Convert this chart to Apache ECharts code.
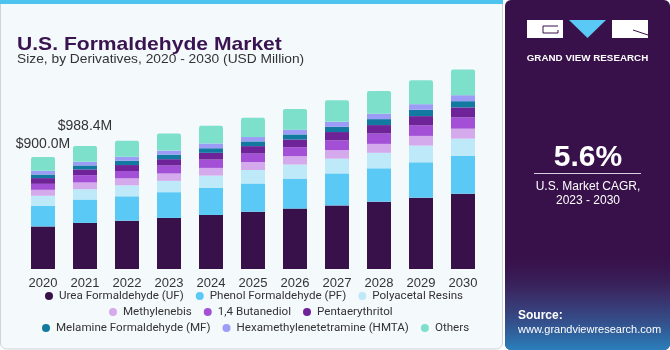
<!DOCTYPE html>
<html>
<head>
<meta charset="utf-8">
<script src="https://cdn.jsdelivr.net/npm/echarts@6/dist/echarts.min.js"></script>
<style>
  html, body { margin: 0; padding: 0; background: #fff; }
  #chart { width: 670px; height: 350px; }
</style>
</head>
<body>
<div id="chart"></div>
<script>
// years on the x axis
const years = ['2020', '2021', '2022', '2023', '2024', '2025', '2026', '2027', '2028', '2029', '2030'];

// USD million (bottom to top)
const ureaFormaldehyde = [342, 370, 388, 410, 434, 460, 485, 511, 541, 573, 605];
const phenolFormaldehyde = [166, 188, 196, 207, 217, 227, 241, 257, 268, 284, 303];
const polyacetalResins = [80, 83, 88, 91, 99, 108, 113, 118, 124, 134, 139];
const methylenebis = [48, 54, 56, 59, 62, 64, 67, 69, 72, 78, 80];
const butanediol = [48, 59, 59, 64, 67, 68, 72, 78, 83, 84, 91];
const pentaerythritol = [46, 46, 48, 51, 54, 60, 62, 67, 68, 75, 80];
const melamineFormaldehyde = [29, 32, 35, 37, 37, 38, 41, 42, 48, 51, 50];
const hmta = [30, 29, 32, 32, 38, 35, 38, 40, 43, 45, 48];
const others = [111, 127.4, 129, 137, 142, 155, 166, 174, 182, 193, 207];

// totals printed above the first two bars
const labelTotals = [900.0, 988.4];

const legendRows = [
  ['Urea Formaldehyde (UF)', 'Phenol Formaldehyde (PF)', 'Polyacetal Resins'],
  ['Methylenebis', '1,4 Butanediol', 'Pentaerythritol'],
  ['Melamine Formaldehyde (MF)', 'Hexamethylenetetramine (HMTA)', 'Others']
];

const seriesDefs = [
  { name: 'Urea Formaldehyde (UF)', data: ureaFormaldehyde, color: '#38104a' },
  { name: 'Phenol Formaldehyde (PF)', data: phenolFormaldehyde, color: '#5bc9f6' },
  { name: 'Polyacetal Resins', data: polyacetalResins, color: '#bde9f9' },
  { name: 'Methylenebis', data: methylenebis, color: '#d5aaec' },
  { name: '1,4 Butanediol', data: butanediol, color: '#a350d7' },
  { name: 'Pentaerythritol', data: pentaerythritol, color: '#6f2398' },
  { name: 'Melamine Formaldehyde (MF)', data: melamineFormaldehyde, color: '#127aa0' },
  { name: 'Hexamethylenetetramine (HMTA)', data: hmta, color: '#9c9cf6' },
  { name: 'Others', data: others, color: '#7ce0cb' }
];

const FONT = '"Liberation Sans", Arial, sans-serif';
const LEGEND_FONT = 'Roboto, "Liberation Sans", sans-serif';
const labelDistances = [6, 13];

const chart = echarts.init(document.getElementById('chart'));

const series = seriesDefs.map((s, idx) => {
  const isTop = idx === seriesDefs.length - 1;
  return {
    name: s.name,
    type: 'bar',
    stack: 'total',
    barWidth: 24,
    itemStyle: { color: s.color, borderRadius: isTop ? [2, 2, 0, 0] : 0 },
    emphasis: { disabled: true },
    data: isTop
      ? s.data.map((v, i) => i < labelTotals.length
        ? {
            value: v,
            label: {
              show: true,
              position: 'top',
              distance: labelDistances[i],
              formatter: '$' + labelTotals[i].toFixed(1) + 'M',
              fontFamily: FONT,
              fontSize: 14,
              color: '#333'
            }
          }
        : v)
      : s.data
  };
});

const legendLefts = [45, 109, 42];
const legendTops = [290, 306, 322];

// helper for text that is stretched sideways to match the original face
function stretchedText(x, y, text, font, fill, sx, align) {
  return {
    type: 'text', z: 10,
    x: x, y: y, scaleX: sx,
    style: { x: 0, y: 0, text: text, font: font, fill: fill, textAlign: align || 'left', textVerticalAlign: 'alphabetic' }
  };
}

const option = {
  animation: false,
  textStyle: { fontFamily: FONT },
  color: seriesDefs.map(s => s.color),
  grid: { left: 22, right: 186, top: 20, bottom: 81 },
  legend: legendRows.map((row, i) => ({
    data: row,
    left: legendLefts[i],
    top: legendTops[i],
    padding: 0,
    icon: 'circle',
    itemWidth: 8,
    itemHeight: 8,
    itemGap: 12,
    selectedMode: false,
    textStyle: { fontFamily: LEGEND_FONT, fontSize: 11.6, color: '#333', padding: [0, 0, 0, 1] }
  })),
  xAxis: {
    type: 'category',
    data: years,
    axisLine: { show: false },
    axisTick: { show: false },
    axisLabel: { margin: 8, fontSize: 13, color: '#333', fontFamily: FONT }
  },
  yAxis: {
    type: 'value',
    min: 0,
    max: 2000,
    show: false,
    splitLine: { show: false }
  },
  graphic: [
    // chart card
    {
      type: 'rect', z: -10,
      shape: { x: 0.5, y: 0.5, width: 502, height: 348.5, r: [0, 0, 6, 6] },
      style: { fill: '#f4f9fc', stroke: '#cdd3d8', lineWidth: 1 }
    },
    {
      type: 'rect', z: -9,
      shape: { x: 0, y: 0, width: 503, height: 4 },
      style: { fill: '#4dc4f0' }
    },
    stretchedText(17, 35, 'U.S. Formaldehyde Market', 'bold 19px ' + FONT, '#3a1450', 1.11),
    stretchedText(17, 53, 'Size, by Derivatives, 2020 - 2030 (USD Million)', '13px ' + FONT, '#333', 1.06),
    // right panel
    {
      type: 'rect', z: -10,
      shape: { x: 505, y: 0, width: 165, height: 350, r: 6 },
      style: { fill: '#38114a' }
    },
    {
      type: 'rect', z: -9,
      shape: { x: 505, y: 250, width: 165, height: 100, r: [0, 0, 6, 6] },
      style: {
        fill: new echarts.graphic.LinearGradient(0, 0, 0, 1, [
          { offset: 0, color: 'rgba(56,17,74,0)' },
          { offset: 0.45, color: 'rgba(60,70,130,0.55)' },
          { offset: 1, color: 'rgba(40,140,200,0.9)' }
        ])
      }
    },
    // logo blocks
    {
      type: 'rect', z: 10,
      shape: { x: 527, y: 20, width: 36, height: 18 },
      style: { fill: '#ffffff' }
    },
    {
      type: 'polyline', z: 11,
      shape: { points: [[558, 26], [543, 26], [543, 33], [558, 33], [558, 30]] },
      style: { stroke: '#38114a', lineWidth: 1, fill: null }
    },
    {
      type: 'polygon', z: 10,
      shape: { points: [[569, 20], [606, 20], [587.5, 38]] },
      style: { fill: '#5bc9f6' }
    },
    {
      type: 'rect', z: 10,
      shape: { x: 612, y: 20, width: 36, height: 18 },
      style: { fill: '#ffffff' }
    },
    {
      type: 'line', z: 11,
      shape: { x1: 633, y1: 30, x2: 648, y2: 35 },
      style: { stroke: '#38114a', lineWidth: 1 }
    },
    stretchedText(587.5, 54.5, 'GRAND VIEW RESEARCH', 'bold 9px ' + FONT, '#ffffff', 1.09, 'center'),
    {
      type: 'text', z: 10,
      style: { x: 588, y: 158, text: '5.6%', font: 'bold 30px ' + FONT, fill: '#ffffff', textAlign: 'center', textVerticalAlign: 'middle' }
    },
    {
      type: 'line', z: 10,
      shape: { x1: 534, y1: 173.5, x2: 641, y2: 173.5 },
      style: { stroke: '#d8d0de', lineWidth: 1 }
    },
    {
      type: 'text', z: 10,
      style: { x: 588, y: 187, text: 'U.S. Market CAGR,', font: '12px ' + FONT, fill: '#ffffff', textAlign: 'center', textVerticalAlign: 'middle' }
    },
    {
      type: 'text', z: 10,
      style: { x: 588, y: 201, text: '2023 - 2030', font: '12px ' + FONT, fill: '#ffffff', textAlign: 'center', textVerticalAlign: 'middle' }
    },
    {
      type: 'text', z: 10,
      style: { x: 518, y: 316, text: 'Source:', font: 'bold 12px ' + FONT, fill: '#ffffff', textVerticalAlign: 'middle' }
    },
    {
      type: 'text', z: 10,
      style: { x: 518, y: 330, text: 'www.grandviewresearch.com', font: '11px ' + FONT, fill: '#ffffff', textVerticalAlign: 'middle' }
    }
  ],
  series: series
};

chart.setOption(option);
window.addEventListener('resize', () => chart.resize());
</script>
</body>
</html>
